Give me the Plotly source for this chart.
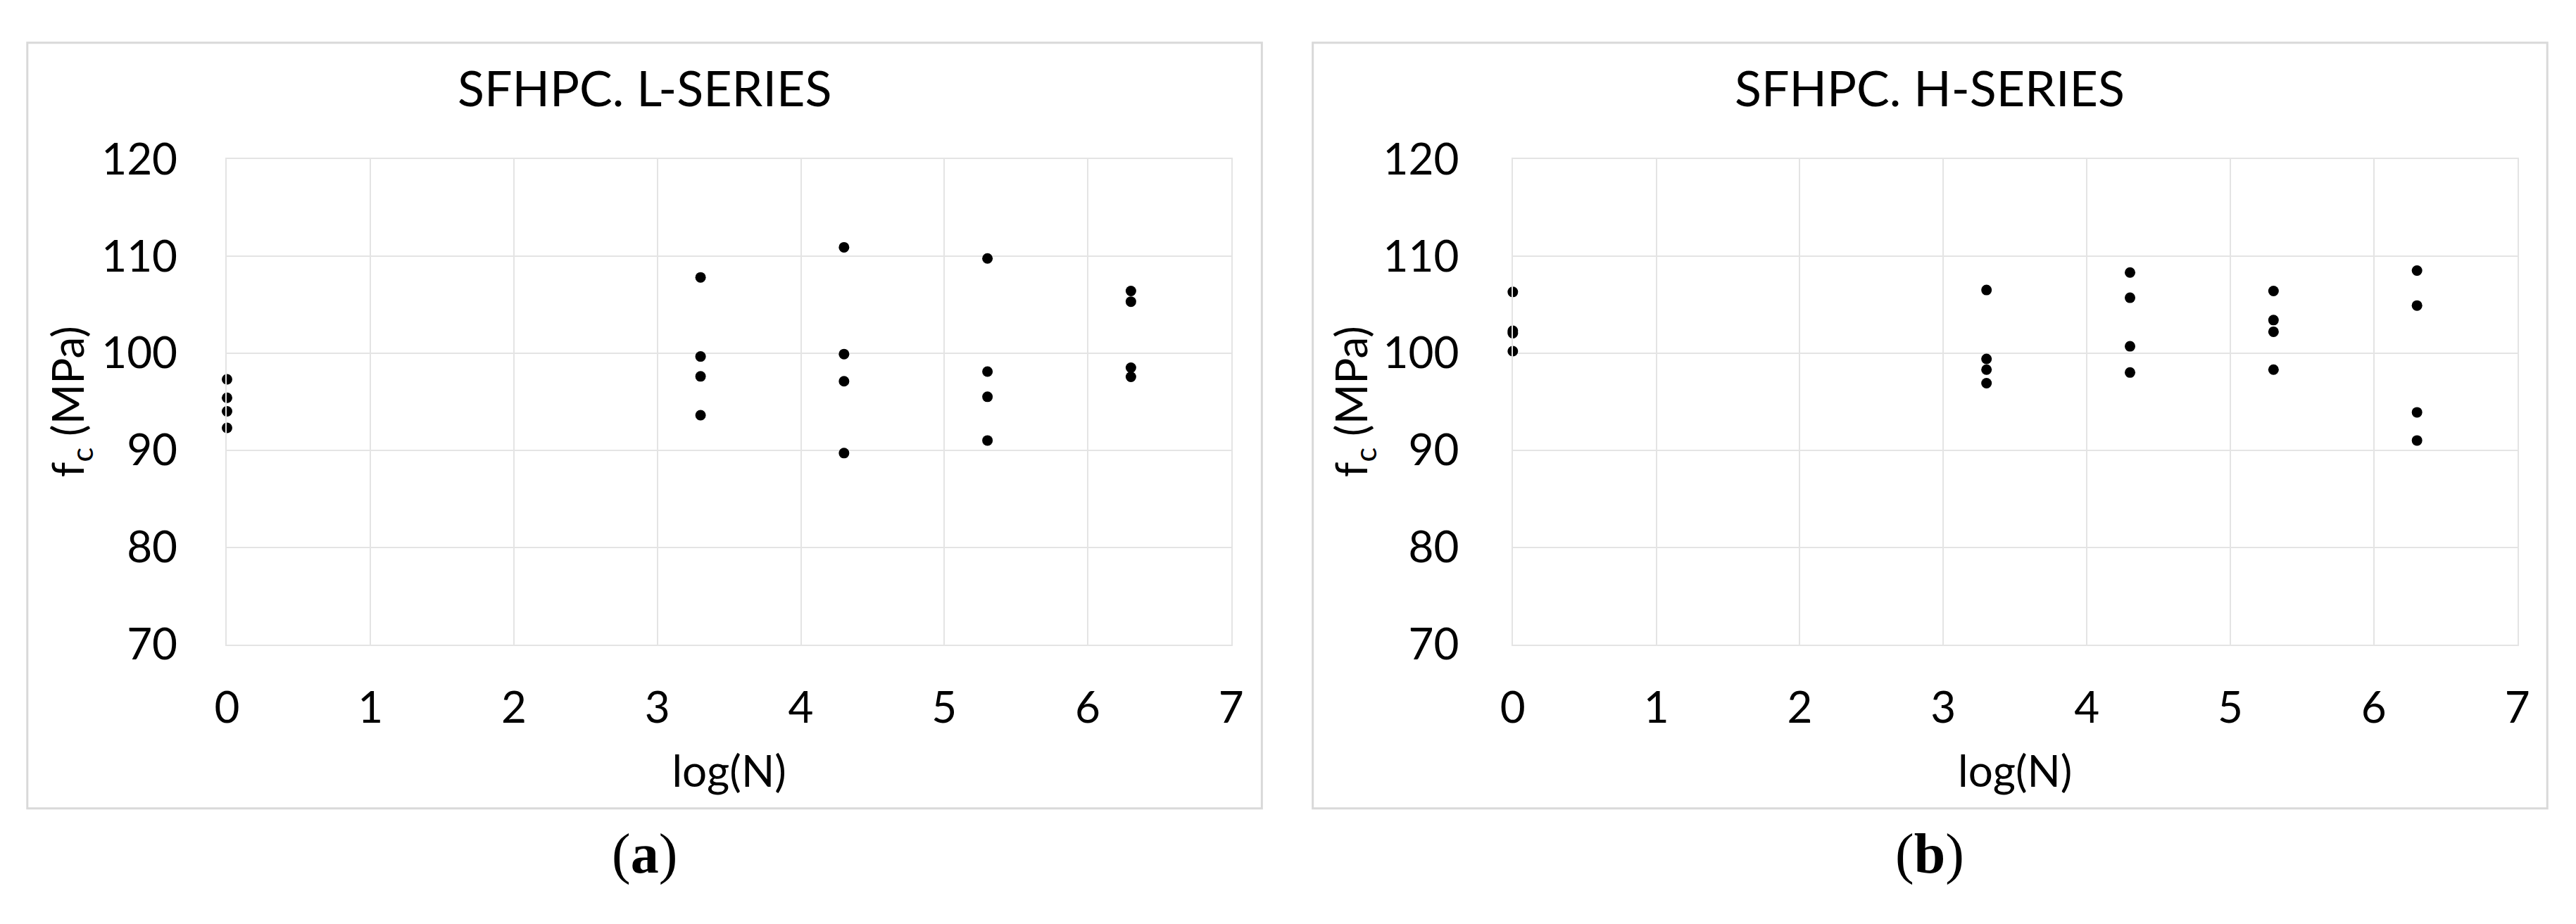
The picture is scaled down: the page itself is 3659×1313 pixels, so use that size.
import plotly.graph_objects as go

W, H = 3659, 1313

# ---- data ----
log_n = [0.0, 3.301, 4.301, 5.301, 6.301]

l_fc_n0 = [97.3, 95.4, 94.0, 92.3]
l_fc_n33 = [107.8, 99.65, 97.6, 93.6]
l_fc_n43 = [110.9, 99.9, 97.1, 89.7]
l_fc_n53 = [109.75, 98.1, 95.5, 91.0]
l_fc_n63 = [106.4, 105.3, 98.5, 97.55]

h_fc_n0 = [106.3, 102.3, 102.05, 100.2]
h_fc_n33 = [106.5, 99.4, 98.3, 96.9]
h_fc_n43 = [108.3, 105.7, 100.7, 98.0]
h_fc_n53 = [106.4, 103.4, 102.2, 98.3]
h_fc_n63 = [108.5, 104.9, 93.9, 91.0]

x_ticks = [0, 1, 2, 3, 4, 5, 6, 7]
y_ticks = [70, 80, 90, 100, 110, 120]
titles = ["SFHPC. L-SERIES", "SFHPC. H-SERIES"]
panel_labels = ["(<b>a</b>)", "(<b>b</b>)"]

l_groups = [l_fc_n0, l_fc_n33, l_fc_n43, l_fc_n53, l_fc_n63]
h_groups = [h_fc_n0, h_fc_n33, h_fc_n43, h_fc_n53, h_fc_n63]


def flatten(groups):
    xs, ys = [], []
    for xv, g in zip(log_n, groups):
        for v in g:
            xs.append(xv)
            ys.append(v)
    return xs, ys


FONT = "Lato, 'Open Sans', sans-serif"
GRID = "#e4e4e4"

fig = go.Figure()
for i, groups in enumerate([l_groups, h_groups]):
    xs, ys = flatten(groups)
    fig.add_trace(go.Scatter(
        x=xs, y=ys, mode="markers",
        marker=dict(size=15, color="black"),
        xaxis="x" if i == 0 else "x2",
        yaxis="y" if i == 0 else "y2",
        cliponaxis=False, showlegend=False,
    ))

y_dom = [1 - 929 / H, 1 - 198 / H]
x_doms = [[307.5 / W, 1748 / W], [2152 / W, 3593 / W]]

def xaxis_cfg(dom, anchor):
    return dict(
        domain=dom, anchor=anchor, range=[0, 7], tickvals=x_ticks,
        showgrid=True, gridcolor=GRID, gridwidth=2,
        showline=True, linecolor=GRID, linewidth=2, mirror=True,
        zeroline=False, ticks="",
        tickfont=dict(family=FONT, size=62, color="black"),
        ticklabelstandoff=35,
        title=dict(text="log(N)", font=dict(family=FONT, size=62, color="black"), standoff=36),
    )

def yaxis_cfg(anchor, tick_off, title_off):
    return dict(
        domain=y_dom, anchor=anchor, range=[70, 120], tickvals=y_ticks,
        showgrid=True, gridcolor=GRID, gridwidth=2,
        showline=True, linecolor=GRID, linewidth=2, mirror=True,
        zeroline=False, ticks="",
        tickfont=dict(family=FONT, size=62, color="black"),
        ticklabelstandoff=tick_off,
        title=dict(text="f<sub>c</sub> (MPa)", font=dict(family=FONT, size=62, color="black"), standoff=title_off),
    )

frames = [(21, 1792), (1865, 3636)]
shapes = []
annotations = []
for (fx0, fx1), t, pl in zip(frames, titles, panel_labels):
    shapes.append(dict(type="rect", xref="paper", yref="paper",
                       x0=fx0 / W, x1=fx1 / W, y0=1 - 1176 / H, y1=1 - 23 / H,
                       line=dict(color="#d9d9d9", width=3), fillcolor="rgba(0,0,0,0)"))
    cx = (fx0 + fx1) / 2 / W
    annotations.append(dict(text=t, x=cx, y=1 - 90 / H, xref="paper", yref="paper",
                            xanchor="center", yanchor="middle", showarrow=False,
                            font=dict(family=FONT, size=70, color="black")))
    annotations.append(dict(text=pl, x=cx, y=1 - 1245 / H, xref="paper", yref="paper",
                            xanchor="center", yanchor="middle", showarrow=False,
                            font=dict(family="'Liberation Serif', 'DejaVu Serif', serif", size=80, color="black")))

fig.update_layout(
    width=W, height=H,
    margin=dict(l=0, r=0, t=0, b=0),
    paper_bgcolor="white", plot_bgcolor="white",
    xaxis=xaxis_cfg(x_doms[0], "y"),
    yaxis=yaxis_cfg("x", 56, 4),
    xaxis2=xaxis_cfg(x_doms[1], "y2"),
    yaxis2=yaxis_cfg("x2", 62, 2),
    shapes=shapes,
    annotations=annotations,
)

fig.write_html(
    "out.html",
    config={"displayModeBar": False},
    post_script="document.body.style.margin='0';document.body.style.overflow='hidden';",
)
